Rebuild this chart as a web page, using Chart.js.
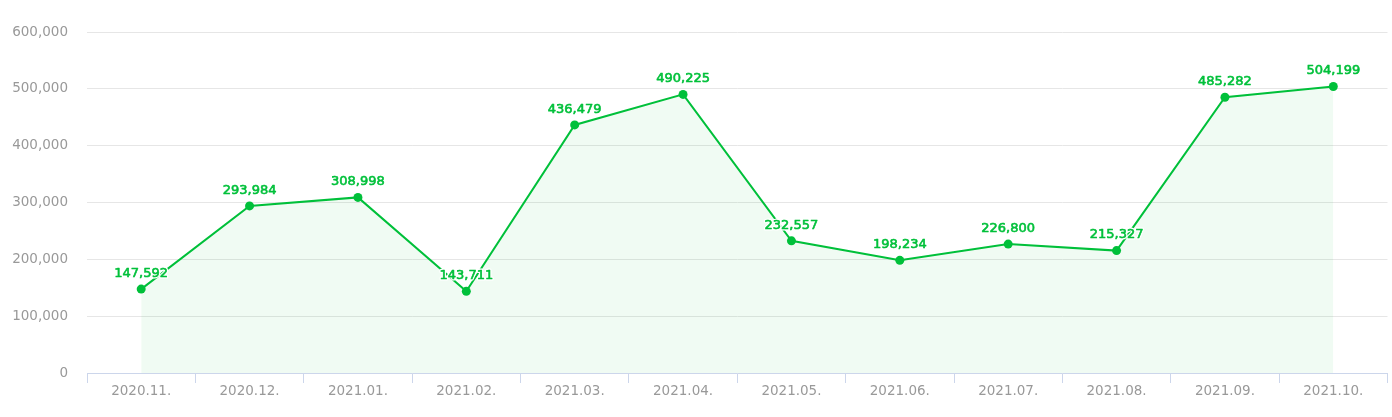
<!DOCTYPE html>
<html>
<head>
<meta charset="utf-8">
<script src="https://cdn.jsdelivr.net/npm/chart.js@4/dist/chart.umd.min.js"></script>
<style>
  html, body { margin: 0; padding: 0; background: #fff; }
  #wrap { width: 1392px; height: 417px; }
</style>
</head>
<body>
<div id="wrap"><canvas id="myChart" width="1392" height="417"></canvas></div>
<script>
// Data
const months = ['2020.11.', '2020.12.', '2021.01.', '2021.02.', '2021.03.', '2021.04.',
  '2021.05.', '2021.06.', '2021.07.', '2021.08.', '2021.09.', '2021.10.']
const amounts = [147592, 293984, 308998, 143711, 436479, 490225,
  232557, 198234, 226800, 215327, 485282, 504199]
const yTicks = [0, 100000, 200000, 300000, 400000, 500000, 600000]

const green = '#00c03a'
const fmt = v => v.toLocaleString('en-US')

// value labels above points
const valueLabels = {
  id: 'valueLabels',
  afterDatasetsDraw(chart) {
    const ctx = chart.ctx
    const meta = chart.getDatasetMeta(0)
    ctx.save()
    ctx.font = '13px "DejaVu Sans"'
    ctx.textAlign = 'center'
    ctx.textBaseline = 'bottom'
    ctx.lineJoin = 'round'
    meta.data.forEach((pt, i) => {
      const txt = fmt(amounts[i])
      const y = pt.y - 9
      ctx.strokeStyle = '#fff'
      ctx.lineWidth = 3
      ctx.strokeText(txt, pt.x, y)
      ctx.fillStyle = green
      ctx.fillText(txt, pt.x, y)
      ctx.strokeStyle = green
      ctx.lineWidth = 0.6
      ctx.strokeText(txt, pt.x, y)
    })
    ctx.restore()
  }
}

var ctx = document.getElementById('myChart')
var myChart = new Chart(ctx, {
  type: 'line',
  data: {
    labels: months,
    datasets: [{
      data: amounts,
      borderColor: green,
      borderWidth: 2,
      backgroundColor: 'rgba(0, 192, 58, 0.06)',
      fill: 'origin',
      tension: 0,
      pointRadius: 4.5,
      pointBackgroundColor: green,
      pointBorderColor: green,
      pointBorderWidth: 0
    }]
  },
  options: {
    responsive: false,
    animation: false,
    devicePixelRatio: 1,
    layout: { padding: { top: 32, right: 0, left: 0, bottom: 0 } },
    plugins: {
      legend: { display: false },
      tooltip: { enabled: false }
    },
    scales: {
      x: {
        offset: true,
        afterFit: s => { s.height = 44 },
        grid: {
          offset: true,
          drawOnChartArea: false,
          drawTicks: true,
          tickLength: 10,
          color: '#ccd6eb'
        },
        border: { color: '#ccd6eb', width: 1 },
        ticks: {
          color: '#999',
          font: { family: 'DejaVu Sans', size: 13.5 },
          padding: 0,
          maxRotation: 0,
          autoSkip: false
        }
      },
      y: {
        min: 0,
        max: 600000,
        afterFit: s => { s.width = 87 },
        afterBuildTicks: s => { s.ticks = yTicks.map(v => ({ value: v })) },
        grid: { color: '#e6e6e6', drawTicks: false },
        border: { display: false },
        ticks: {
          color: '#999',
          font: { family: 'DejaVu Sans', size: 13.5 },
          padding: 19,
          callback: v => fmt(v)
        }
      }
    }
  },
  plugins: [valueLabels]
})
</script>
</body>
</html>
